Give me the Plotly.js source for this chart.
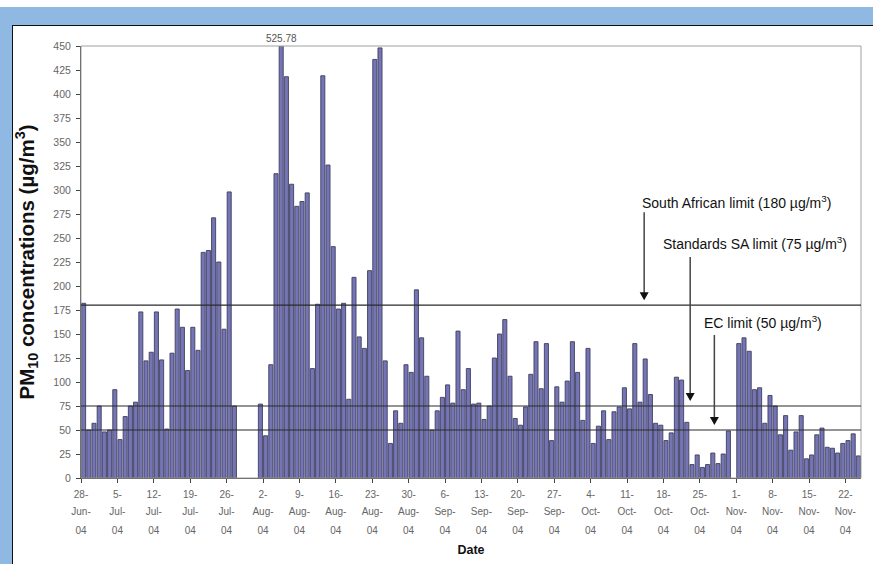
<!DOCTYPE html>
<html>
<head>
<meta charset="utf-8">
<script src="https://cdn.plot.ly/plotly-3.0.1.min.js"></script>
<style>
  html, body { margin: 0; padding: 0; width: 873px; height: 564px; overflow: hidden; background: #ffffff; }
  #band { position: absolute; left: 0; top: 7px; width: 873px; height: 557px; background: #8fb9e3; }
  #frame { position: absolute; left: 12px; top: 25px; width: 861px; height: 539px; background: #ffffff;
           border-left: 1px solid #111; border-top: 1px solid #111; }
  #chart { position: absolute; left: 0; top: 0; width: 873px; height: 564px; }
</style>
</head>
<body>
<div id="band"></div>
<div id="frame"></div>
<div id="chart"></div>
<script>
// Daily PM10 concentrations (µg/m³), one value per day starting 28 June 2004.
// null = no sample collected that day.
const startDate = [2004, 5, 28];
const pm10 = [
  182, 50, 57, 75, 48, 50, 92, 40, 64, 75,
  79, 173, 122, 131, 173, 123, 51, 130, 176, 157,
  112, 157, 133, 235, 237, 271, 225, 155, 298, 75,
  null, null, null, null, 77, 44, 118, 317, 525.78, 418,
  306, 283, 288, 297, 114, 181, 419, 326, 241, 176,
  182, 82, 209, 147, 135, 216, 436, 448, 122, 36,
  70, 57, 118, 110, 196, 146, 106, 50, 70, 84,
  97, 78, 153, 92, 114, 77, 78, 61, 75, 125,
  150, 165, 106, 62, 55, 74, 108, 142, 93, 140,
  39, 95, 79, 101, 142, 110, 60, 135, 36, 54,
  70, 40, 69, 74, 94, 72, 140, 79, 124, 87,
  57, 55, 39, 47, 105, 102, 58, 14, 24, 11,
  14, 26, 15, 25, 49, null, 140, 146, 132, 92,
  94, 57, 86, 75, 45, 65, 29, 48, 65, 20,
  24, 45, 52, 32, 31, 26, 36, 39, 46, 23
];

// Guideline limits drawn as horizontal reference lines
const limitNames = ['South African limit', 'Standards SA limit', 'EC limit'];
const limitValues = [180, 75, 50];

const yMax = 450;

function pad(n) { return (n < 10 ? '0' : '') + n; }
function dayStamp(i, hour) {
  const d = new Date(Date.UTC(startDate[0], startDate[1], startDate[2] + i, hour));
  return d.getUTCFullYear() + '-' + pad(d.getUTCMonth() + 1) + '-' + pad(d.getUTCDate()) + ' ' + pad(hour) + ':00';
}
// each daily sample sits in the middle of its day
const days = pm10.map((_, i) => dayStamp(i, 12));
const xStart = dayStamp(0, 0);
const xEnd = dayStamp(pm10.length, 0);

const font = 'Liberation Sans, Arial, sans-serif';
const tickGrey = '#666666';

const bars = {
  type: 'bar',
  x: days,
  y: pm10,
  marker: { color: '#7474b6', line: { color: '#3e3e5c', width: 0.9 } },
  hoverinfo: 'x+y'
};
// carriers for the month and year rows of the date labels
const monthRow = { type: 'scatter', mode: 'none', x: days, y: pm10.map(() => null),
                   xaxis: 'x2', hoverinfo: 'skip', showlegend: false };
const yearRow = Object.assign({}, monthRow, { xaxis: 'x3' });

const shapes = [
  // plot-area frame
  { type: 'rect', xref: 'paper', yref: 'paper', x0: 0, x1: 1, y0: 0, y1: 1,
    line: { color: '#a0a0a0', width: 1 }, layer: 'above' }
];
limitValues.forEach(v => shapes.push({
  type: 'line', xref: 'paper', yref: 'y', x0: 0, x1: 1, y0: v, y1: v,
  line: { color: '#2a2a2a', width: 1.2 }, layer: 'above'
}));

// label placement (paper fractions) and pointer geometry for each limit
const labelX = [0.841, 0.864, 0.874];
const labelY = [0.640, 0.543, 0.361];
const arrowX = [0.722, 0.781, 0.812];
const arrowLen = [93, 149, 95];

limitValues.forEach((v, k) => {
  // shaft
  shapes.push({ type: 'line', xref: 'paper', x0: arrowX[k], x1: arrowX[k],
    yref: 'y', ysizemode: 'pixel', yanchor: v, y0: 12, y1: arrowLen[k],
    line: { color: '#444', width: 1.5 }, layer: 'above' });
  // head
  shapes.push({ type: 'path', xref: 'paper', xsizemode: 'pixel', xanchor: arrowX[k],
    yref: 'y', ysizemode: 'pixel', yanchor: v,
    path: 'M -4.5,13 L 4.5,13 L 0,5 Z', fillcolor: '#111', line: { width: 0 }, layer: 'above' });
});

const annotations = [];
// value label for the day that runs off the top of the scale
pm10.forEach((v, i) => {
  if (v !== null && v > yMax) {
    annotations.push({ x: days[i], y: yMax, xref: 'x', yref: 'y', text: v.toFixed(2),
      showarrow: false, yanchor: 'bottom',
      font: { family: font, size: 10, color: '#555' } });
  }
});
limitValues.forEach((v, k) => {
  annotations.push({ xref: 'paper', yref: 'paper', x: labelX[k], y: labelY[k],
    xanchor: 'center', yanchor: 'middle', showarrow: false,
    text: limitNames[k] + ' (' + v + ' µg/m<sup>3</sup>)',
    font: { family: font, size: 14, color: '#111' } });
});

const dateAxis = {
  type: 'date',
  range: [xStart, xEnd],
  tick0: xStart,
  dtick: 7 * 86400000,
  ticks: '',
  showgrid: false,
  zeroline: false,
  fixedrange: true,
  tickfont: { family: font, size: 10, color: tickGrey }
};

const layout = {
  width: 873, height: 564,
  margin: { l: 81, r: 12, t: 46, b: 86 },
  paper_bgcolor: 'rgba(0,0,0,0)',
  plot_bgcolor: '#ffffff',
  showlegend: false,
  bargap: 0.22,
  font: { family: font },
  xaxis: Object.assign({}, dateAxis, {
    ticks: 'outside', ticklen: 4, tickcolor: '#444', tickwidth: 1,
    showline: true, linecolor: '#444', linewidth: 1,
    tickformat: '%-d-', ticklabelstandoff: 3,
    title: { text: 'Date', font: { family: font, size: 12.5, color: '#111', weight: 'bold' }, standoff: 46 }
  }),
  xaxis2: Object.assign({}, dateAxis, { overlaying: 'x', anchor: 'y', side: 'bottom',
    tickformat: '%b-', ticklabelstandoff: 26, showline: false }),
  xaxis3: Object.assign({}, dateAxis, { overlaying: 'x', anchor: 'y', side: 'bottom',
    tickformat: '%y', ticklabelstandoff: 45, showline: false }),
  yaxis: {
    range: [0, yMax],
    dtick: 25,
    ticks: 'outside', ticklen: 4, tickcolor: '#444',
    showline: true, linecolor: '#444', linewidth: 1,
    showgrid: false, zeroline: false, fixedrange: true,
    ticklabelstandoff: 3,
    tickfont: { family: font, size: 10.5, color: tickGrey },
    title: { text: 'PM<sub>10</sub> concentrations (µg/m<sup>3</sup>)',
             font: { family: font, size: 20.5, color: '#111', weight: 'bold' }, standoff: 13 }
  },
  shapes: shapes,
  annotations: annotations
};

Plotly.newPlot('chart', [bars, monthRow, yearRow], layout, { displayModeBar: false, staticPlot: true });
</script>
</body>
</html>
